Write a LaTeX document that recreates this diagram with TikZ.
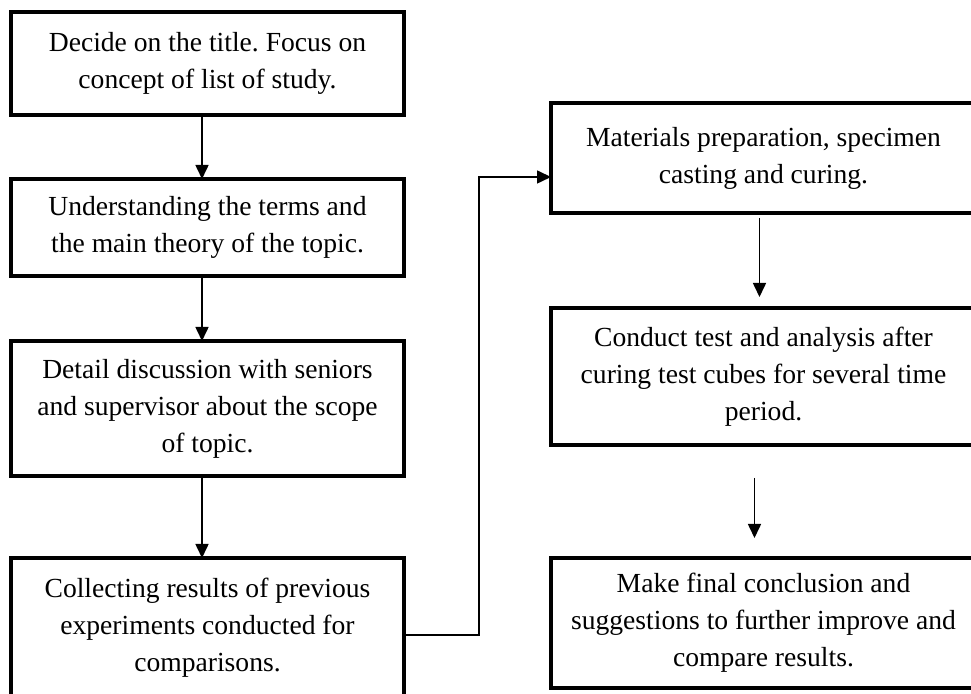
\documentclass[tikz,border=0pt]{standalone}
\usepackage{fontspec}
\setmainfont{Liberation Serif}
\usepackage{tikz}
\usetikzlibrary{arrows.meta,shapes}
\usetikzlibrary{positioning}
\tikzstyle{block} = [draw, rectangle, line width=2pt, outer sep=0pt,
    align=center, font=\fontsize{13.8pt}{18.5pt}\selectfont\frenchspacing]
\tikzstyle{lblock} = [block, minimum width=196.5pt]
\tikzstyle{rblock} = [block, minimum width=212.5pt]
\tikzstyle{line} = [draw, line width=0.8pt, -{Triangle[length=7pt,width=6.5pt]}]

\begin{document}
\begin{tikzpicture}[x=0.5pt, y=-0.5pt, node distance = 32pt]
  \useasboundingbox (0,0) rectangle (971,694);
  % Place nodes
  \node [lblock, minimum height=51.5pt] (b1) at (207.5,63.5)
  {Decide on the title. Focus on\\concept of list of study.};
  \node [lblock, minimum height=48.5pt, below=32pt of b1] (b2)
  {Understanding the terms and\\the main theory of the topic.};
  \node [lblock, minimum height=67.5pt, below=32.5pt of b2] (b3)
  {Detail discussion with seniors\\and supervisor about the scope\\of topic.};
  \node [lblock, minimum height=70pt, below=41pt of b3] (b4)
  {Collecting results of previous\\experiments conducted for\\comparisons.};
  \node [rblock, minimum height=55pt] (r1) at (763.5,158)
  {Materials preparation, specimen\\casting and curing.};
  \node [rblock, minimum height=68.5pt, below=47.5pt of r1] (r2)
  {Conduct test and analysis after\\curing test cubes for several time\\period.};
  \node [rblock, minimum height=65pt, below=56.5pt of r2] (r3)
  {Make final conclusion and\\suggestions to further improve and\\compare results.};
  % Draw edges
  \path [line] ([xshift=-2.75pt]b1.south) -- ([xshift=-2.75pt]b2.north);
  \path [line] ([xshift=-2.75pt]b2.south) -- ([xshift=-2.75pt]b3.north);
  \path [line] ([xshift=-2.75pt]b3.south) -- ([xshift=-2.75pt]b4.north);
  \path [line] ([yshift=-3.5pt]b4.east) -- ++(37.5pt,0) |- ([yshift=-9.5pt]r1.west);
  \path [line, shorten <=2.5pt, shorten >=5.5pt] ([xshift=-2pt]r1.south) -- ([xshift=-2pt]r2.north);
  \path [line, shorten <=16.5pt, shorten >=10pt] ([xshift=-4.5pt]r2.south) -- ([xshift=-4.5pt]r3.north);
\end{tikzpicture}
\end{document}
